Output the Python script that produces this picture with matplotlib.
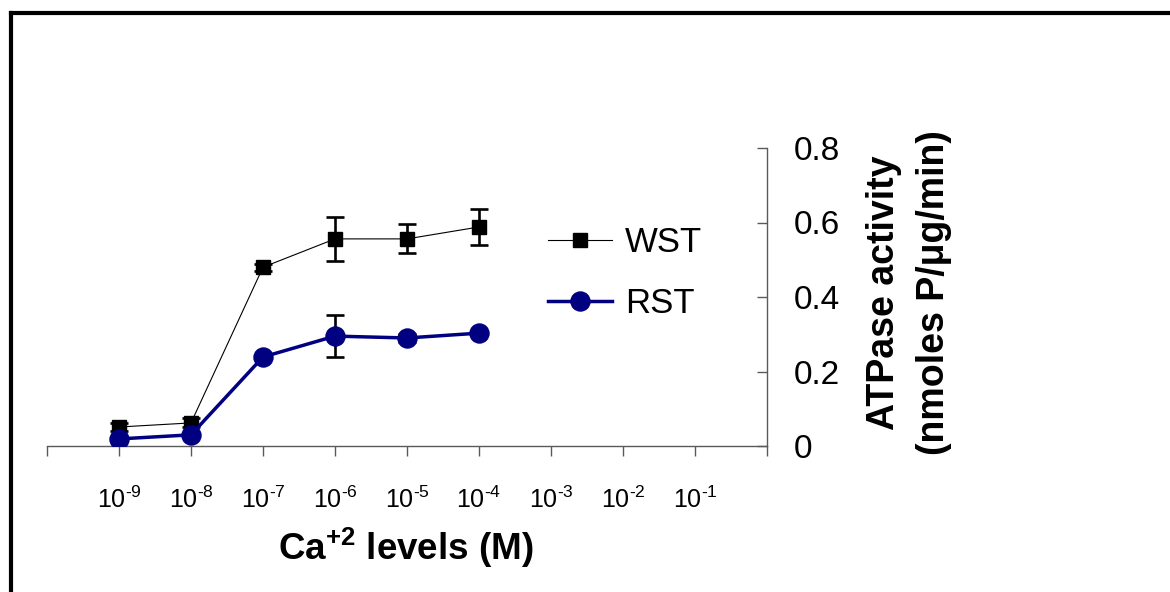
import matplotlib
matplotlib.use("Agg")
import matplotlib.pyplot as plt
from matplotlib.lines import Line2D

plt.rcParams['font.family'] = ['Liberation Sans', 'DejaVu Sans']
plt.rcParams['mathtext.fontset'] = 'custom'
plt.rcParams['mathtext.rm'] = 'Liberation Sans'
plt.rcParams['mathtext.it'] = 'Liberation Sans:italic'
plt.rcParams['mathtext.bf'] = 'Liberation Sans:bold'

# ---- data ----
HY = '\u2010'  # hyphen used in the exponents
exponents = ['9', '8', '7', '6', '5', '4', '3', '2', '1']
tick_labels = [''] + [r'$10^{\mathrm{' + HY + e + '}}$' for e in exponents] + ['']
data_pos = [1, 2, 3, 4, 5, 6]
wst = [0.051, 0.062, 0.480, 0.556, 0.556, 0.588]
wst_err = [0.012, 0.012, 0.009, 0.059, 0.039, 0.048]
rst = [0.019, 0.030, 0.239, 0.295, 0.290, 0.303]
rst_err = [0.005, 0.005, 0.005, 0.056, 0.010, 0.005]
yticks = [0, 0.2, 0.4, 0.6, 0.8]
ytick_labels = ['0', '0.2', '0.4', '0.6', '0.8']

W, H = 1170, 592
fig = plt.figure(figsize=(W / 100, H / 100), dpi=100)
ax = fig.add_axes([47 / W, (H - 446) / H, 720 / W, 298 / H])

spine_col = '#5a5a5a'
for s in ['top', 'left']:
    ax.spines[s].set_visible(False)
for s in ['bottom', 'right']:
    ax.spines[s].set_color(spine_col)
    ax.spines[s].set_linewidth(1.0)

ax.set_xlim(0, 10)
ax.set_ylim(0, 0.8)

ax.set_xticks(range(len(tick_labels)))
ax.set_xticklabels(tick_labels, fontsize=18)
ax.tick_params(axis='x', direction='out', length=7.2, width=1.0, color=spine_col, pad=22)

ax.yaxis.tick_right()
ax.set_yticks(yticks)
ax.set_yticklabels(ytick_labels, fontsize=24)
ax.tick_params(axis='y', direction='in', length=7.2, width=1.0, color=spine_col, pad=19)

# WST
ax.errorbar(data_pos, wst, yerr=wst_err, fmt='none', ecolor='black', elinewidth=1.9,
            capsize=6.8, capthick=1.9, zorder=2)
ax.plot(data_pos, wst, color='black', lw=0.8, marker='s', markersize=9.5,
        markerfacecolor='black', markeredgecolor='black', label='WST', zorder=3)
# RST
ax.errorbar(data_pos, rst, yerr=rst_err, fmt='none', ecolor='black', elinewidth=1.9,
            capsize=6.8, capthick=1.9, zorder=4)
ax.plot(data_pos, rst, color='#000080', lw=2.5, marker='o', markersize=13.7,
        markerfacecolor='#000080', markeredgecolor='#000080', label='RST', zorder=5)

leg = ax.legend(loc='upper left', bbox_to_anchor=(548 / W, (H - 226) / H),
                bbox_transform=fig.transFigure, frameon=False, fontsize=25,
                handlelength=1.84, handletextpad=0.37, labelspacing=0.8,
                borderpad=0, borderaxespad=0)

ax.set_xlabel(r'Ca$^{\mathbf{+2}}$ levels (M)', fontsize=26.5, fontweight='bold')
ax.xaxis.set_label_coords(406 / W, (H - 548) / H, transform=fig.transFigure)
ax.xaxis.label.set_va('center')

fig.text(909 / W, (H - 293) / H, 'ATPase activity\n(nmoles P/\u03bcg/min)', rotation=90,
         ha='center', va='center', multialignment='center', fontsize=27,
         fontweight='bold', linespacing=1.5)

# figure border (left and top)
fig.add_artist(Line2D([11 / W, 11 / W], [0, (H - 13) / H], color='black', lw=3,
                      transform=fig.transFigure, solid_capstyle='projecting'))
fig.add_artist(Line2D([11 / W, 1], [(H - 13) / H, (H - 13) / H], color='black', lw=3,
                      transform=fig.transFigure, solid_capstyle='projecting'))

fig.savefig('out.png', dpi=100)
